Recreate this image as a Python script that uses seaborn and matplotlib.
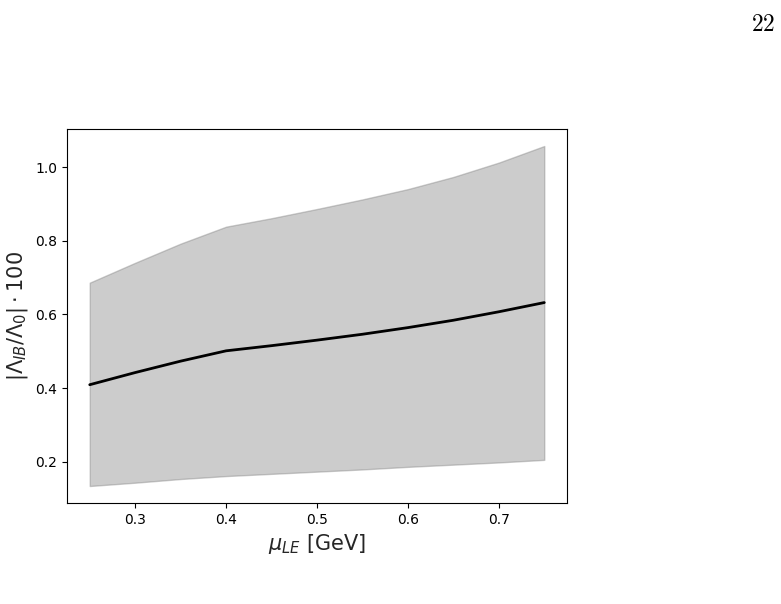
import numpy as np
import pandas as pd
import seaborn as sns
import matplotlib
matplotlib.use("Agg")
import matplotlib.pyplot as plt

# Values
mu_le = [0.25, 0.30, 0.35, 0.40, 0.45, 0.50, 0.55, 0.60, 0.65, 0.70, 0.75]
central = [0.409, 0.442, 0.473, 0.501, 0.515, 0.530, 0.546, 0.564, 0.584, 0.607, 0.632]
upper = [0.686, 0.740, 0.792, 0.838, 0.861, 0.886, 0.912, 0.940, 0.973, 1.012, 1.057]
lower = [0.134, 0.143, 0.153, 0.161, 0.167, 0.173, 0.179, 0.186, 0.192, 0.198, 0.205]

df = pd.DataFrame({"mu": mu_le, "central": central, "upper": upper, "lower": lower})

sns.set_style("ticks", {"axes.edgecolor": "black", "xtick.color": "black",
                        "ytick.color": "black", "text.color": "black"})
plt.rcParams['font.family'] = ['DejaVu Sans']
plt.rcParams['mathtext.fontset'] = 'dejavusans'

fig = plt.figure(figsize=(7.81, 6.04), dpi=100)
ax = fig.add_axes([0.0858, 0.1672, 0.6402, 0.6192])

ax.fill_between(df["mu"], df["lower"], df["upper"], color="gray", alpha=0.4)
sns.lineplot(data=df, x="mu", y="central", color="black", linewidth=2, ax=ax)

ax.set_xticks([0.3, 0.4, 0.5, 0.6, 0.7])
ax.set_yticks([0.2, 0.4, 0.6, 0.8, 1.0])
ax.tick_params(labelsize=10)
ax.set_xlabel(r"$\mu_{LE}$ [GeV]", fontsize=15)
ax.set_ylabel(r"$|\Lambda_{IB}/\Lambda_0| \cdot 100$", fontsize=15)

# page number of the source document
fig.text(0.993, 0.96, r"$\mathrm{22}$", fontsize=17, ha="right", va="center",
         math_fontfamily="cm")

fig.savefig("out.png", dpi=100)
